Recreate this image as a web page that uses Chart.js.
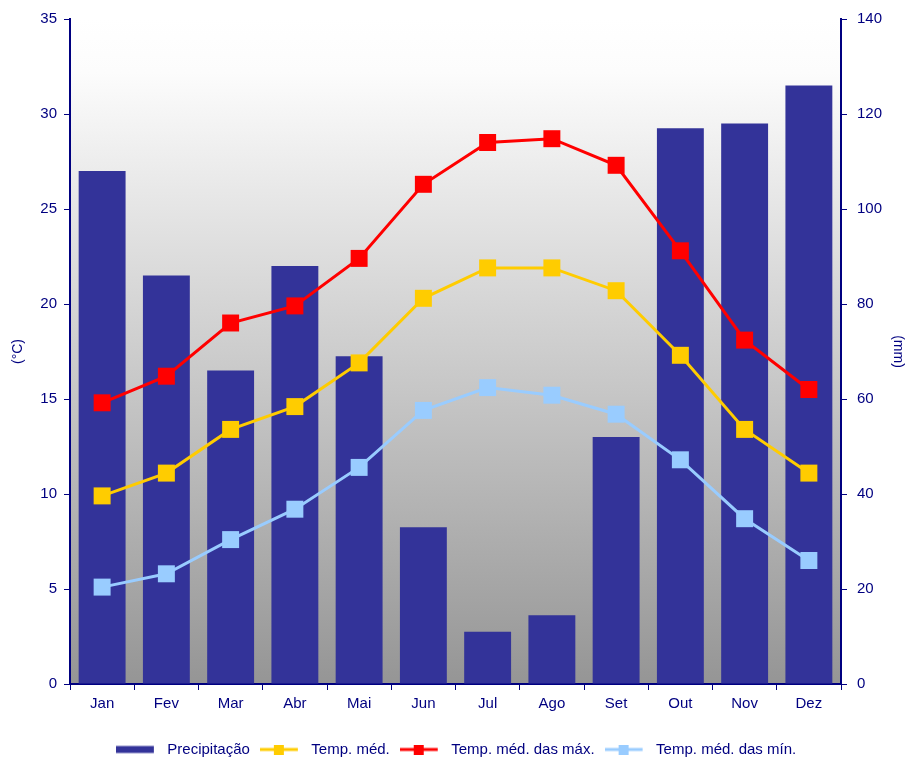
<!DOCTYPE html>
<html lang="pt">
<head>
<meta charset="utf-8">
<title>Clima</title>
<script src="https://cdn.jsdelivr.net/npm/chart.js@4/dist/chart.umd.min.js"></script>
<style>
  html, body { margin: 0; padding: 0; background: #fff; }
  #wrap { width: 912px; height: 759px; position: relative; }
</style>
</head>
<body>
<div id="wrap"><canvas id="grafico"></canvas></div>
<script>
const meses = ['Jan', 'Fev', 'Mar', 'Abr', 'Mai', 'Jun', 'Jul', 'Ago', 'Set', 'Out', 'Nov', 'Dez'];
const precipitacao = [108, 86, 66, 88, 69, 33, 11, 14.5, 52, 117, 118, 126];
const tempMed = [9.9, 11.1, 13.4, 14.6, 16.9, 20.3, 21.9, 21.9, 20.7, 17.3, 13.4, 11.1];
const tempMax = [14.8, 16.2, 19.0, 19.9, 22.4, 26.3, 28.5, 28.7, 27.3, 22.8, 18.1, 15.5];
const tempMin = [5.1, 5.8, 7.6, 9.2, 11.4, 14.4, 15.6, 15.2, 14.2, 11.8, 8.7, 6.5];

const azul = '#333399';
const navy = '#000080';
const familia = '"Liberation Sans", Arial, sans-serif';
const fonte = { family: familia, size: 15 };

// marcador da legenda: barra larga ou linha com quadrado (com folga à direita)
function marcaLegenda(cor, linha) {
  const c = document.createElement('canvas');
  c.width = 44; c.height = 10;
  const ctx = c.getContext('2d');
  ctx.fillStyle = cor;
  if (linha) {
    ctx.fillRect(0, 3.5, 38, 3);
    ctx.fillRect(14, 0, 10, 10);
  } else {
    ctx.fillRect(0, 1.5, 38, 7);
  }
  return c;
}

// fundo em degradê branco -> cinza dentro da área do gráfico
const fundo = {
  id: 'fundo',
  beforeDraw(chart) {
    const { ctx, chartArea: a } = chart;
    const g = ctx.createLinearGradient(0, a.top, 0, a.bottom);
    g.addColorStop(0, '#ffffff');
    g.addColorStop(0.08, '#fcfcfc');
    g.addColorStop(1, '#959595');
    ctx.save();
    ctx.fillStyle = g;
    ctx.fillRect(a.left, a.top, a.right - a.left, a.bottom - a.top);
    ctx.restore();
  }
};

function serie(label, data, cor) {
  return {
    type: 'line',
    label,
    data,
    yAxisID: 'y',
    order: 0,
    borderColor: cor,
    backgroundColor: cor,
    borderWidth: 3,
    tension: 0,
    pointStyle: 'rect',
    pointRadius: 12,
    pointHoverRadius: 12,
    pointBorderWidth: 0,
    pointBackgroundColor: cor
  };
}

new Chart(document.getElementById('grafico'), {
  data: {
    labels: meses,
    datasets: [
      {
        type: 'bar',
        label: 'Precipitação',
        data: precipitacao,
        yAxisID: 'y2',
        order: 1,
        backgroundColor: azul,
        barPercentage: 0.73,
        categoryPercentage: 1
      },
      serie('Temp. méd.', tempMed, '#ffcc00'),
      serie('Temp. méd. das máx.', tempMax, '#ff0000'),
      serie('Temp. méd. das mín.', tempMin, '#99ccff')
    ]
  },
  options: {
    responsive: true,
    maintainAspectRatio: false,
    animation: false,
    layout: { padding: { top: 19, bottom: -8, left: 0, right: 0 } },
    plugins: {
      tooltip: { enabled: false },
      legend: {
        position: 'bottom',
        labels: {
          color: navy,
          font: { family: familia, size: 15 },
          usePointStyle: true,
          pointStyleWidth: 44,
          boxHeight: 10,
          padding: 10,
          sort: (a, b) => a.datasetIndex - b.datasetIndex,
          generateLabels(chart) {
            return chart.data.datasets.map((ds, i) => ({
              text: ds.label,
              datasetIndex: i,
              fontColor: navy,
              lineWidth: 0,
              strokeStyle: 'transparent',
              fillStyle: ds.backgroundColor,
              pointStyle: marcaLegenda(ds.backgroundColor, ds.type === 'line')
            }));
          }
        }
      }
    },
    scales: {
      x: {
        offset: true,
        border: { color: navy, width: 2 },
        grid: { display: true, offset: true, drawOnChartArea: false, color: navy, tickLength: 6 },
        ticks: { color: navy, font: fonte, padding: 5 },
        afterFit(s) { s.height = 48; }
      },
      y: {
        position: 'left',
        min: 0, max: 35,
        border: { color: navy, width: 2 },
        grid: { drawOnChartArea: false, color: navy, tickLength: 6 },
        ticks: { stepSize: 5, color: navy, font: fonte, padding: 7 },
        title: { display: true, text: '(°C)', color: navy, font: { family: familia, size: 14 }, padding: { top: 10, bottom: 0 } },
        afterFit(s) { s.width = 70; }
      },
      y2: {
        position: 'right',
        min: 0, max: 140,
        border: { color: navy, width: 2 },
        grid: { drawOnChartArea: false, color: navy, tickLength: 6 },
        ticks: { stepSize: 20, color: navy, font: fonte, padding: 10 },
        title: { display: true, text: '(mm)', color: navy, font: { family: familia, size: 14 }, padding: { top: 6, bottom: 0 } },
        afterFit(s) { s.width = 71; }
      }
    }
  },
  plugins: [fundo]
});
</script>
</body>
</html>
